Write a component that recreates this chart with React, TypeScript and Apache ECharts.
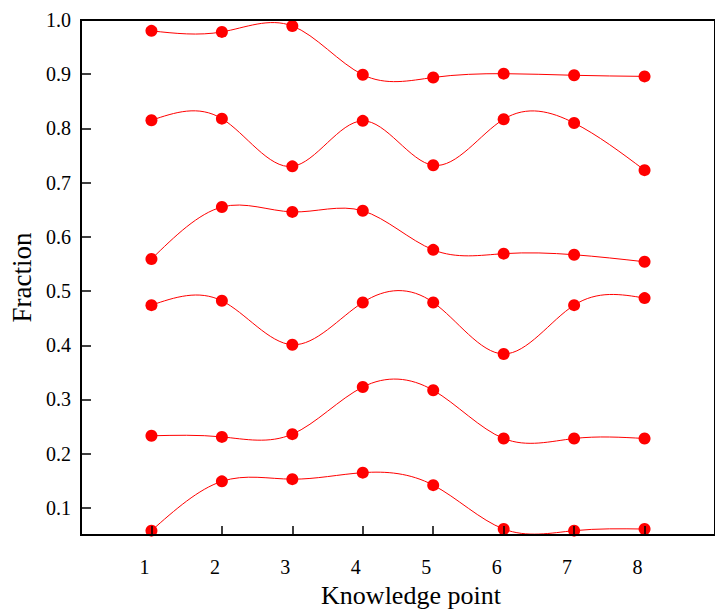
import React, { useEffect, useRef } from "react";
import * as echarts from "echarts";

// Knowledge points along the x axis
const knowledgePoints = [1, 2, 3, 4, 5, 6, 7, 8];

// Fraction per knowledge point, one curve each
const curveA = [0.980, 0.978, 0.989, 0.899, 0.894, 0.901, 0.898, 0.896];
const curveB = [0.815, 0.818, 0.730, 0.814, 0.732, 0.817, 0.810, 0.723];
const curveC = [0.559, 0.655, 0.646, 0.648, 0.576, 0.569, 0.567, 0.554];
const curveD = [0.474, 0.482, 0.401, 0.479, 0.479, 0.384, 0.474, 0.487];
const curveE = [0.233, 0.231, 0.236, 0.323, 0.317, 0.228, 0.228, 0.228];
const curveF = [0.058, 0.149, 0.153, 0.165, 0.142, 0.061, 0.058, 0.061];

const curves = [curveA, curveB, curveC, curveD, curveE, curveF];

// Tick labels
const yTicks = [0.1, 0.2, 0.3, 0.4, 0.5, 0.6, 0.7, 0.8, 0.9, 1.0];
const xTicks = [1, 2, 3, 4, 5, 6, 7, 8];

const FONT = "'Liberation Serif', 'Times New Roman', serif";
const RED = "#ff0000";

// Natural cubic spline through pixel points, returned as an SVG path of bezier segments
function splinePath(pts: number[][]): string {
  const n = pts.length;
  if (n < 2) return "";
  const x = pts.map((p) => p[0]);
  const y = pts.map((p) => p[1]);
  const h: number[] = [];
  for (let i = 0; i < n - 1; i++) h.push(x[i + 1] - x[i]);
  // second derivatives M, with M[0] = M[n-1] = 0
  const M = new Array(n).fill(0);
  if (n > 2) {
    const m = n - 2;
    const a: number[] = [], b: number[] = [], c: number[] = [], d: number[] = [];
    for (let i = 1; i <= m; i++) {
      a.push(h[i - 1]);
      b.push(2 * (h[i - 1] + h[i]));
      c.push(h[i]);
      d.push(6 * ((y[i + 1] - y[i]) / h[i] - (y[i] - y[i - 1]) / h[i - 1]));
    }
    // Thomas algorithm
    for (let i = 1; i < m; i++) {
      const w = a[i] / b[i - 1];
      b[i] -= w * c[i - 1];
      d[i] -= w * d[i - 1];
    }
    const sol = new Array(m).fill(0);
    sol[m - 1] = d[m - 1] / b[m - 1];
    for (let i = m - 2; i >= 0; i--) sol[i] = (d[i] - c[i] * sol[i + 1]) / b[i];
    for (let i = 0; i < m; i++) M[i + 1] = sol[i];
  }
  let path = `M${x[0]},${y[0]}`;
  for (let i = 0; i < n - 1; i++) {
    const hi = h[i];
    const slope = (y[i + 1] - y[i]) / hi;
    const d0 = slope - (hi * (2 * M[i] + M[i + 1])) / 6;
    const d1 = slope + (hi * (M[i] + 2 * M[i + 1])) / 6;
    const c1x = x[i] + hi / 3;
    const c1y = y[i] + (hi / 3) * d0;
    const c2x = x[i + 1] - hi / 3;
    const c2y = y[i + 1] - (hi / 3) * d1;
    path += ` C${c1x},${c1y} ${c2x},${c2y} ${x[i + 1]},${y[i + 1]}`;
  }
  return path;
}

export default function App() {
  const ref = useRef<HTMLDivElement>(null);

  useEffect(() => {
    document.body.style.margin = "0";
    if (!ref.current) return;
    const chart = echarts.init(ref.current, undefined, { renderer: "svg" });

    const lineSeries = curves.map((values) => ({
      type: "custom",
      data: values.map((v, i) => [knowledgePoints[i], v]),
      clip: false,
      z: 1,
      silent: true,
      renderItem: (params: any, api: any) => {
        if (params.dataIndex !== 0) return null;
        const pts = values.map((v, i) => api.coord([knowledgePoints[i], v]));
        return {
          type: "path",
          shape: { pathData: splinePath(pts) },
          style: { stroke: RED, fill: "none", lineWidth: 1 },
        };
      },
    }));

    const markerSeries = curves.map((values) => ({
      type: "scatter",
      data: values.map((v, i) => [knowledgePoints[i], v]),
      symbol: "circle",
      symbolSize: 12,
      itemStyle: { color: RED, opacity: 1 },
      clip: false,
      z: 2,
    }));

    chart.setOption({
      animation: false,
      backgroundColor: "#ffffff",
      grid: {
        left: 80,
        top: 20,
        right: -6,
        bottom: 75,
        show: true,
        borderColor: "#000000",
        borderWidth: 2,
        backgroundColor: "transparent",
        z: 3,
      },
      xAxis: {
        type: "value",
        min: 0,
        max: 9,
        interval: 1,
        name: "Knowledge point",
        nameLocation: "middle",
        nameGap: 47,
        nameTextStyle: {
          fontFamily: FONT,
          fontSize: 26,
          color: "#000",
          padding: [0, 0, 0, 26],
        },
        axisLine: { lineStyle: { color: "#000", width: 2 }, onZero: false },
        axisTick: {
          inside: true,
          length: 9,
          lineStyle: { color: "#000", width: 1.5 },
          customValues: xTicks,
        },
        axisLabel: {
          fontFamily: FONT,
          fontSize: 20,
          color: "#000",
          margin: 22,
          padding: [0, 14, 0, 0],
          customValues: xTicks,
          formatter: (v: number) => String(v),
        },
        splitLine: { show: false },
        z: 4,
      },
      yAxis: {
        type: "value",
        min: 0.05,
        max: 1.0,
        name: "Fraction",
        nameLocation: "middle",
        nameGap: 46,
        nameTextStyle: { fontFamily: FONT, fontSize: 27, color: "#000" },
        axisLine: { lineStyle: { color: "#000", width: 2 }, onZero: false },
        axisTick: {
          inside: true,
          length: 10,
          lineStyle: { color: "#000", width: 1.5 },
          customValues: yTicks,
        },
        axisLabel: {
          fontFamily: FONT,
          fontSize: 20,
          color: "#000",
          margin: 10,
          customValues: yTicks,
          formatter: (v: number) => v.toFixed(1),
        },
        splitLine: { show: false },
        z: 4,
      },
      series: [...lineSeries, ...markerSeries],
    });

    return () => chart.dispose();
  }, []);

  return <div ref={ref} style={{ width: 715, height: 613 }} />;
}
